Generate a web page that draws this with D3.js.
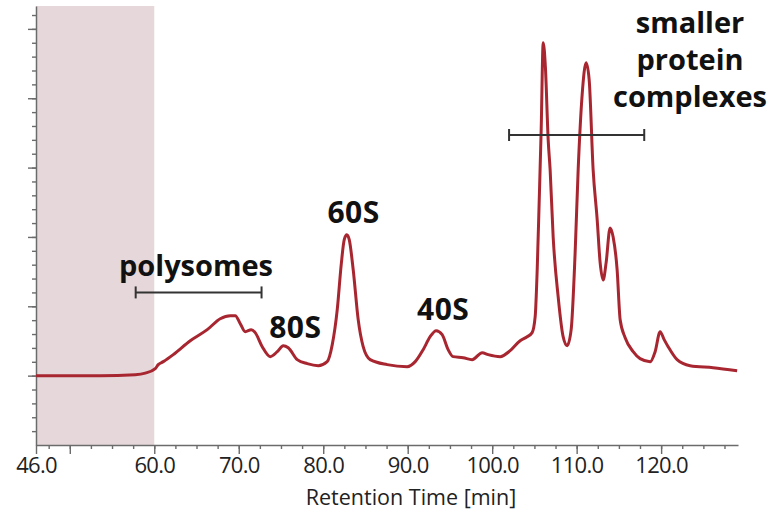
<!DOCTYPE html>
<html>
<head>
<meta charset="utf-8">
<script src="https://cdn.jsdelivr.net/npm/d3@7"></script>
<style>
  html, body { margin: 0; padding: 0; background: #fff; }
  svg { display: block; }
  text { font-family: "Open Sans", "DejaVu Sans", sans-serif; }
</style>
</head>
<body>
<svg id="chart" width="784" height="517"></svg>
<script>
// Retention time (min) of the UV trace samples
const retentionTime = [
  46.0, 53.6, 57.75, 58.93, 60.12, 60.47, 61.07, 62.25, 64.26, 66.27,
  67.81, 69.0, 69.59, 70.18, 70.77, 71.48, 71.95, 72.78, 73.73, 74.56,
  75.27, 75.86, 76.92, 78.11, 79.41, 80.47, 81.07, 81.66, 82.13, 82.49,
  82.80, 83.08, 83.55, 84.14, 84.73, 85.56, 87.57, 89.94, 90.89, 91.83,
  92.66, 93.37, 94.08, 94.79, 95.38, 96.57, 97.63, 98.82, 99.53, 100.95,
  102.13, 103.31, 104.14, 104.73, 105.09, 105.33, 105.56, 105.80, 106.04, 106.30,
  106.63, 106.86, 107.22, 107.81, 108.40, 108.88, 109.35, 109.82, 110.18, 110.65,
  111.12, 111.48, 111.95, 112.43, 112.78, 113.14, 113.49, 113.96, 114.32, 114.79,
  115.15, 115.74, 116.69, 117.51, 118.70, 119.29, 119.88, 120.36, 120.83, 121.89,
  123.43, 126.15, 129.0
];
// Absorbance (mAU) at each retention time
const absorbance = [
  0, 0, 1.4, 3.6, 10.1, 15.9, 20.2, 30.3, 50.4, 66.3,
  82.1, 86.5, 86.5, 74.9, 63.4, 66.3, 62.0, 41.8, 27.4, 34.6,
  43.2, 40.3, 23.1, 17.3, 14.4, 20.2, 44.7, 95.1, 160, 196,
  203, 196, 152.7, 80.7, 41.8, 23.1, 15.9, 13.0, 20.2, 37.5,
  56.2, 64.8, 59.1, 37.5, 27.4, 25.9, 23.1, 33.1, 30.3, 27.4,
  36.0, 50.4, 56.2, 62.0, 85.0, 152.7, 249, 354, 480, 445,
  340, 297, 200, 114, 56.2, 43.2, 66.3, 177, 297, 405,
  451, 427, 297, 225, 163, 138, 163, 213, 200, 153,
  80.7, 54.8, 34.6, 24.5, 20.2, 34.6, 63.4, 51.9, 41.8, 23.1,
  14.4, 11.5, 7.2
];

// Axis tick values
const xLabelTicks = [46, 60, 70, 80, 90, 100, 110, 120];
const xMajorTicks = [46, 50, 60, 70, 80, 90, 100, 110, 120];
const xMinorTicks = d3.range(47.5, 129, 2.5);
const yMajorTicks = [0, 100, 200, 300, 400, 500];
const yMinorTicks = d3.range(-80, 521, 20);

// Annotated fractions and their brackets
const polysomeRange = [57.8, 72.7];
const smallComplexRange = [102.0, 118.0];
const peakLabels = [
  { text: "80S", t: 76.7, v: 55 },
  { text: "60S", t: 83.6, v: 220 },
  { text: "40S", t: 94.2, v: 80 }
];
const complexLabel = ["smaller", "protein", "complexes"];
const xTitle = "Retention Time [min]";
const loadRegion = [46, 60];

const svg = d3.select("#chart");
const x = d3.scaleLinear().domain([46, 129.1]).range([36, 738]);
const y = d3.scaleLinear().domain([-100, 533]).range([445, 6]);

const axisColor = "#6b6b6b";

// Shaded loading region
svg.append("rect")
  .attr("x", x(loadRegion[0]))
  .attr("y", y(533))
  .attr("width", x(loadRegion[1]) - x(loadRegion[0]))
  .attr("height", y(-100) - y(533))
  .attr("fill", "#e6d8da");

// X axis: minor ticks, major ticks, labels
const gx = svg.append("g").attr("transform", `translate(0,${y(-100)})`);
gx.append("g")
  .call(d3.axisBottom(x).tickValues(xMinorTicks).tickSize(4).tickFormat(""))
  .call(g => g.select(".domain").remove());
gx.append("g")
  .call(d3.axisBottom(x).tickValues(xMajorTicks).tickSize(9).tickFormat("").tickSizeOuter(0))
  .call(g => g.select(".domain").attr("stroke-width", 1.5));
gx.append("g")
  .call(d3.axisBottom(x).tickValues(xLabelTicks).tickSize(0).tickPadding(12).tickFormat(d3.format(".1f")))
  .call(g => g.select(".domain").remove())
  .call(g => g.selectAll("text").attr("font-size", 22).attr("fill", "#222").attr("letter-spacing", -0.7));
gx.selectAll("line").attr("stroke", axisColor).attr("stroke-width", 1.4);
gx.selectAll(".domain").attr("stroke", axisColor);

svg.append("text")
  .attr("x", 411)
  .attr("y", 505)
  .attr("text-anchor", "middle")
  .attr("font-size", 21.5)
  .attr("fill", "#222")
  .text(xTitle);

// Y axis (unlabelled)
const gy = svg.append("g").attr("transform", `translate(${x(46)},0)`);
gy.append("g")
  .call(d3.axisLeft(y).tickValues(yMinorTicks).tickSize(4).tickFormat(""))
  .call(g => g.select(".domain").remove());
gy.append("g")
  .call(d3.axisLeft(y).tickValues(yMajorTicks).tickSize(8).tickFormat("").tickSizeOuter(0));
gy.selectAll("line").attr("stroke", axisColor).attr("stroke-width", 1.4);
gy.selectAll(".domain").attr("stroke", axisColor).attr("stroke-width", 1.5);

// Trace
const trace = retentionTime.map((t, i) => [t, absorbance[i]]);
svg.append("path")
  .datum(trace)
  .attr("fill", "none")
  .attr("stroke", "#a82630")
  .attr("stroke-width", 3)
  .attr("stroke-linejoin", "round")
  .attr("d", d3.line().x(d => x(d[0])).y(d => y(d[1])).curve(d3.curveMonotoneX));

// Brackets
function bracket(range, v) {
  const g = svg.append("g").attr("stroke", "#333").attr("stroke-width", 2);
  const yy = y(v);
  g.append("line").attr("x1", x(range[0])).attr("x2", x(range[1])).attr("y1", yy).attr("y2", yy);
  range.forEach(t => g.append("line").attr("x1", x(t)).attr("x2", x(t)).attr("y1", yy - 6).attr("y2", yy + 6));
}
bracket(polysomeRange, 120);
bracket(smallComplexRange, 347);

// Labels
const labelStyle = sel => sel
  .attr("text-anchor", "middle")
  .attr("font-weight", 700)
  .attr("fill", "#111");

svg.append("text")
  .attr("x", 196)
  .attr("y", y(143))
  .attr("font-size", 29)
  .call(labelStyle)
  .text("polysomes");

svg.selectAll(".peak-label")
  .data(peakLabels)
  .join("text")
  .attr("class", "peak-label")
  .attr("x", d => x(d.t))
  .attr("y", d => y(d.v))
  .attr("font-size", 30)
  .attr("letter-spacing", 0.5)
  .call(labelStyle)
  .text(d => d.text);

svg.append("text")
  .attr("x", 690)
  .attr("y", 33)
  .attr("font-size", 29)
  .call(labelStyle)
  .selectAll("tspan")
  .data(complexLabel)
  .join("tspan")
  .attr("x", 690)
  .attr("dy", (d, i) => i === 0 ? 0 : 37)
  .text(d => d);
</script>
</body>
</html>
